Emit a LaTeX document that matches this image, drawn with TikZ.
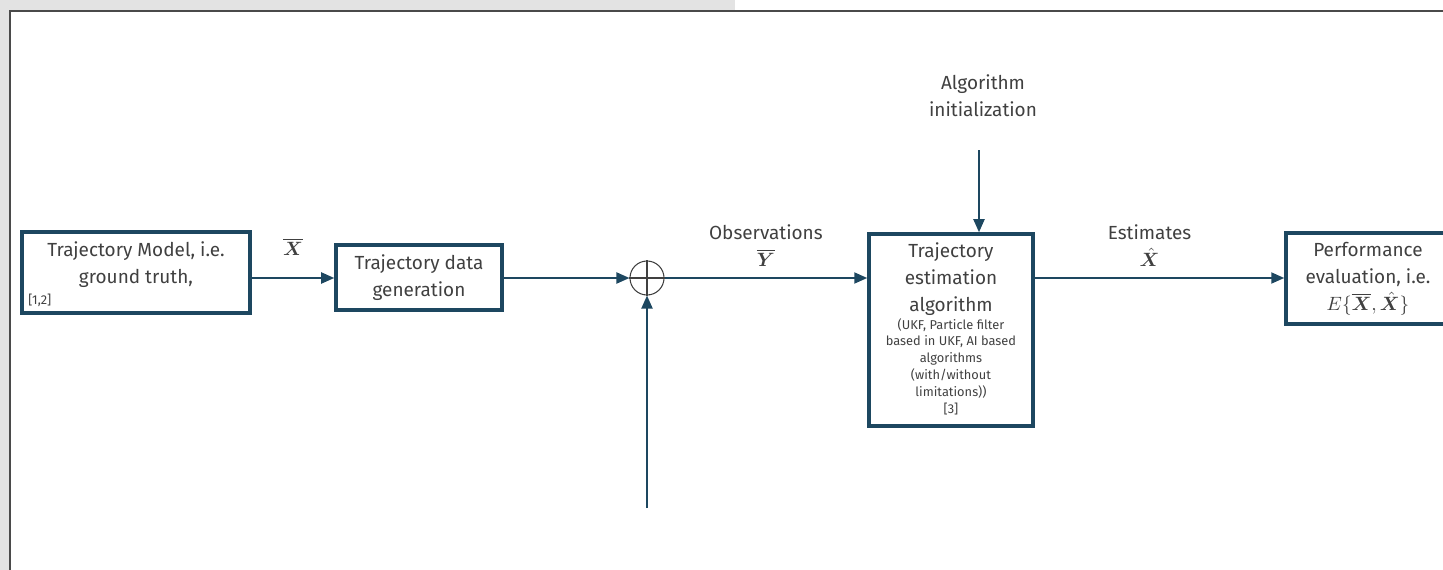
\documentclass[tikz,border=0pt]{standalone}
\usepackage{amsmath,bm}
\usepackage{fontspec}
\setmainfont{Fira Sans}
\usetikzlibrary{positioning,calc,arrows.meta}
\definecolor{boxblue}{HTML}{1D4760}
\definecolor{txtgray}{HTML}{404040}
\definecolor{panelgray}{HTML}{E3E3E3}
\definecolor{framegray}{HTML}{4A4A4A}
\newcommand{\notefont}{\fontsize{7.3}{9.6}\selectfont}

\begin{document}
\begin{tikzpicture}[
    font=\fontsize{10.8}{15.3}\selectfont,
    text=txtgray,
    block/.style={rectangle, draw=boxblue, line width=2pt, align=center},
    flow/.style={draw=boxblue, line width=1.1pt, -{Triangle[length=2.6mm,width=2.2mm]}},
    note/.style={font=\notefont, align=center},
    sumnode/.style={circle, draw=txtgray, line width=0.6pt, minimum size=0.68cm, inner sep=0pt}
]
    \useasboundingbox (0,0) rectangle (28.86,-11.4);
    % window frame
    \fill[panelgray] (0,0) rectangle (14.7,-0.2);
    \fill[panelgray] (0,0) rectangle (0.18,-11.4);
    \draw[framegray, line width=1.2pt] (0.2,-11.4) -- (0.2,-0.22) -- (28.86,-0.22);

    % blocks
    \node[block, minimum width=4.56cm, minimum height=1.62cm] (model) at (2.72,-5.45) {};
    \node[align=center] (modeltxt) at ($(model.center)+(0,0.15)$) {Trajectory Model, i.e.\\ground truth,};
    \node[note, anchor=south west] (modelref) at ($(model.south west)+(0.04,0.04)$) {[1,2]};

    \node[block, minimum width=3.32cm, minimum height=1.30cm] (gen) at (8.38,-5.55) {Trajectory data\\generation};

    \node[sumnode] (sum) at (12.94,-5.56) {};
    \draw[txtgray, line width=0.6pt] (sum.north) -- (sum.south) (sum.west) -- (sum.east);

    \node[block, minimum width=3.28cm, minimum height=3.84cm] (est) at (19.02,-6.60) {};
    \node[align=center] (esttxt) at (19.02,-5.58) {Trajectory\\estimation\\algorithm};
    \node[note] (estnote) at (19.02,-7.33) {(UKF, Particle filter\\based in UKF, AI based\\algorithms\\(with/without\\limitations))\\{}[3]};

    \node[block, minimum width=3.28cm, minimum height=1.82cm] (perf) at (27.36,-5.57) {Performance\\evaluation, i.e.\\$E\{\overline{\bm X},\hat{\bm X}\}$};

    \node[align=center] (inittxt) at (19.66,-1.91) {Algorithm\\initialization};
    \coordinate (init) at (19.58,-3.0);
    \coordinate (noise) at (12.94,-10.16);

    % connectors
    \draw[flow] (model.east |- sum) -- (gen.west |- sum) node[midway, above=0.32cm] (xlbl) {$\overline{\bm X}$};
    \draw[flow] (gen.east |- sum) -- (sum.west);
    \draw[flow] (noise) -- (sum.south);
    \draw[flow] (sum.east) -- (est.west |- sum) node[midway, above=0.1cm, align=center] (obslbl) {Observations\\$\overline{\bm Y}$};
    \draw[flow] (init) -- (init |- est.north);
    \draw[flow] (est.east |- sum) -- (perf.west |- sum) node[pos=0.46, above=0.1cm, align=center] (estlbl) {Estimates\\$\hat{\bm X}$};

\end{tikzpicture}
\end{document}
